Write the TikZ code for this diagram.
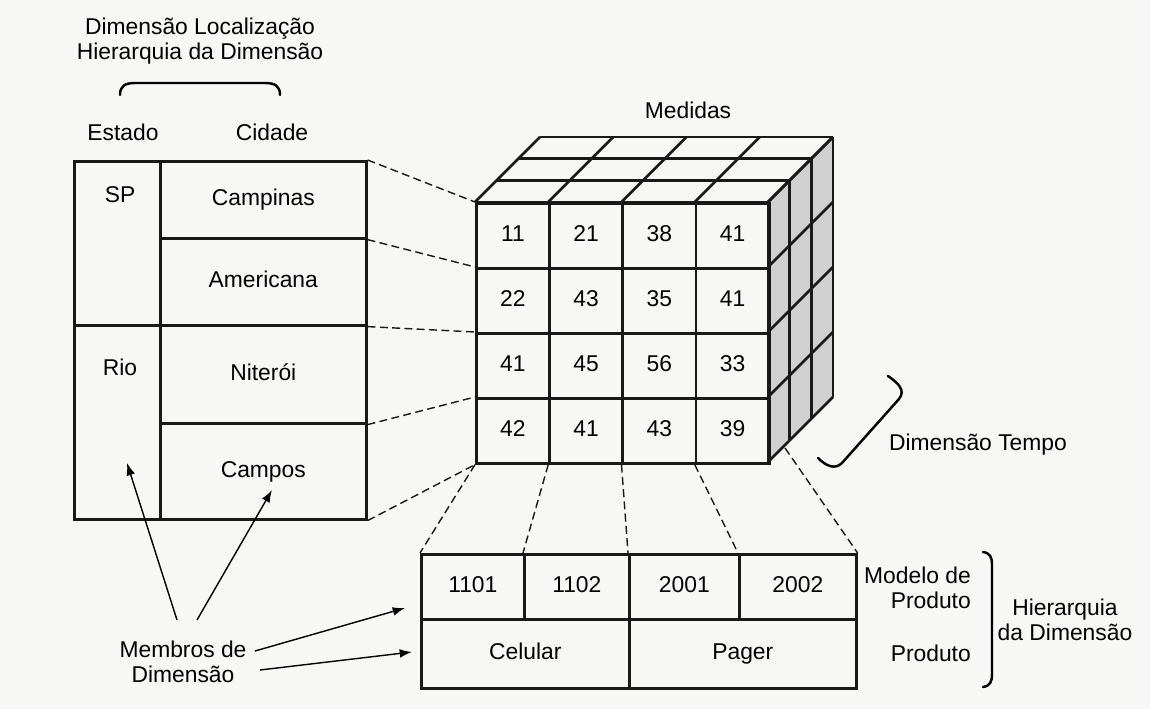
\documentclass[tikz,border=0pt]{standalone}
\usepackage{fontspec}
\setmainfont{Liberation Sans}
\usetikzlibrary{arrows.meta,positioning}
\usepackage{xcolor}
\definecolor{paper}{RGB}{247,247,245}
\definecolor{lineblack}{RGB}{25,25,25}
\definecolor{sidegray}{RGB}{208,208,208}

\begin{document}
\begin{tikzpicture}[x=0.02cm,y=-0.02cm,font=\fontsize{13}{14}\selectfont,
  cell/.style={draw=lineblack,line width=1.5pt,inner sep=0pt,anchor=north west,text height=9.4pt,text depth=2.7pt},
  face/.style={draw=lineblack,line width=1.5pt},
  link/.style={draw=lineblack,dash pattern=on 4.5pt off 2.5pt,line width=0.8pt},
  pointer/.style={-{Latex[length=7pt,width=5pt]},line width=0.8pt},
  bracket/.style={line width=1.4pt,line cap=round}]
\fill[paper] (0,0) rectangle (1150,709);
\useasboundingbox (0,0) rectangle (1150,709);

% dimensao localizacao
\node[align=center] (dimloc) at (200,41) {Dimensão Localização\\Hierarquia da Dimensão};
\draw[bracket] (120,95) .. controls (120,86) and (125,83) .. (135,83) -- (265,83) .. controls (275,83) and (280,86) .. (280,95);
\node (estado) at (123,132) {Estado};
\node (cidade) at (272,132) {Cidade};
\node[cell,minimum width=1.72cm,minimum height=3.28cm] (sp) at (73,160) {};
\node[cell,minimum width=1.72cm,minimum height=3.88cm] (rio) at (73,324) {};
\node (sptxt) at (120,195) {SP};
\node (riotxt) at (120,367) {Rio};
\node[cell,minimum width=4.12cm,minimum height=1.54cm] (campinas) at (159,160) {Campinas};
\node[cell,minimum width=4.12cm,minimum height=1.74cm] (americana) at (159,237) {Americana};
\node[cell,minimum width=4.12cm,minimum height=1.96cm] (niteroi) at (159,324) {Niterói};
\node[cell,minimum width=4.12cm,minimum height=1.92cm] (campos) at (159,422) {Campos};

% cubo
\node (medidas) at (688,110) {Medidas};
\fill[sidegray] (768,202) -- (833,137) -- (833,397) -- (768,462) -- cycle;
\foreach \k in {0,...,3}
  \draw[face] ({475+21.67*\k},{202-21.67*\k}) -- ++(293,0);
\foreach \i in {0,...,4}
  \draw[face] ({475+73.25*\i},202) -- ++(65,-65);
\foreach \k in {0,...,3}
  \draw[face] ({768+21.67*\k},{202-21.67*\k}) -- ++(0,260);
\foreach \j in {0,...,4}
  \draw[face] (768,{202+65*\j}) -- ++(65,-65);
\foreach \row [count=\j] in {{11,21,38,41},{22,43,35,41},{41,45,56,33},{42,41,43,39}}
  \foreach \v [count=\i] in \row
    \node[cell,minimum width=1.465cm,minimum height=1.3cm] (m\j\i) at ({475+73.25*(\i-1)},{202+65*(\j-1)}) {\v};

\draw[bracket] (888,376) .. controls (898,383) and (906,390) .. (899,399) -- (842,463) .. controls (835,470) and (826,466) .. (818,458);
\node (tempo) at (978,445) {Dimensão Tempo};

\draw[link] (campinas.north east) -- (m11.north west);
\draw[link] (campinas.south east) -- (m21.north west);
\draw[link] (americana.south east) -- (m31.north west);
\draw[link] (niteroi.south east) -- (m41.north west);
\draw[link] (campos.south east) -- (m41.south west);

% dimensao produto
\node[cell,minimum width=2.06cm,minimum height=1.3cm] (p1) at (420,553) {1101};
\node[cell,minimum width=2.1cm,minimum height=1.3cm] (p2) at (523,553) {1102};
\node[cell,minimum width=2.2cm,minimum height=1.3cm] (p3) at (628,553) {2001};
\node[cell,minimum width=2.34cm,minimum height=1.3cm] (p4) at (738,553) {2002};
\node[cell,minimum width=4.16cm,minimum height=1.38cm] (celular) at (420,618) {Celular};
\node[cell,minimum width=4.54cm,minimum height=1.38cm] (pager) at (628,618) {Pager};

\coordinate (tback) at (785,448);
\draw[link] (m41.south west) -- (p1.north west);
\draw[link] (m42.south west) -- (p2.north west);
\draw[link] (m43.south west) -- (p3.north west);
\draw[link] (m44.south west) -- (p4.north west);
\draw[link] (tback) -- (p4.north east);

\node[align=right,anchor=east] (modelo) at (977,588) {Modelo de\\Produto};
\node[anchor=east] (produto) at (977,653) {Produto};
\draw[bracket] (983,552) .. controls (990,553) and (992,557) .. (992,565) -- (992,674) .. controls (992,682) and (990,686) .. (983,687);
\node[align=center] (hierprod) at (1065,620) {Hierarquia\\da Dimensão};

% membros
\node[align=center] (membros) at (183,662) {Membros de\\Dimensão};
\coordinate (mb1) at (177,620);
\coordinate (mb2) at (197,620);
\coordinate (mb3) at (255,651);
\coordinate (mb4) at (260,670);
\coordinate (rioin) at (127,463);
\coordinate (camposin) at (272,490);
\coordinate (p1in) at (405,608);
\coordinate (celin) at (412,652);
\draw[pointer] (mb1) -- (rioin);
\draw[pointer] (mb2) -- (camposin);
\draw[pointer] (mb3) -- (p1in);
\draw[pointer] (mb4) -- (celin);
\end{tikzpicture}
\end{document}
